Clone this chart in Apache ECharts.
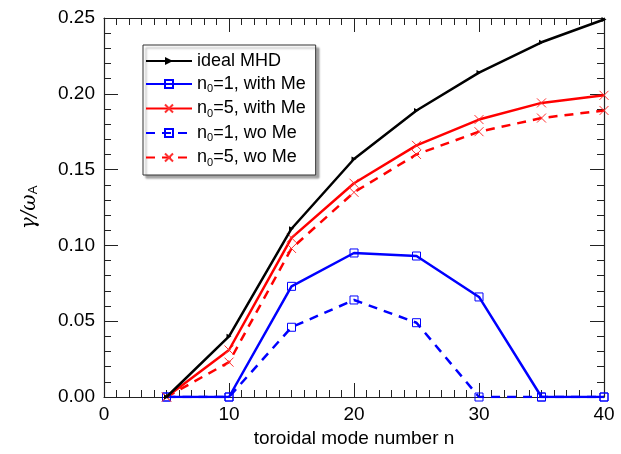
<!DOCTYPE html>
<html>
<head>
<meta charset="utf-8">
<script src="https://cdn.jsdelivr.net/npm/echarts@6/dist/echarts.min.js"></script>
<style>
  html, body { margin: 0; padding: 0; background: #fff; }
  #chart { width: 621px; height: 454px; }
</style>
</head>
<body>
<div id="chart"></div>
<script>
// toroidal mode numbers
var modeN = [5, 10, 15, 20, 25, 30, 35, 40]

// growth rates gamma / omega_A
var idealMHD = [0.000, 0.040, 0.111, 0.157, 0.189, 0.214, 0.234, 0.249]
var n5WithMe = [0.000, 0.031, 0.105, 0.141, 0.166, 0.183, 0.194, 0.199]
var n5WoMe   = [0.000, 0.023, 0.098, 0.135, 0.160, 0.175, 0.184, 0.189]
var n1WithMe = [0.000, 0.000, 0.073, 0.095, 0.093, 0.066, 0.000, 0.000]
var n1WoMe   = [0.000, 0.000, 0.046, 0.064, 0.049, 0.000, 0.000, 0.000]

var xTicks = [0, 10, 20, 30, 40]
var yTicks = [0.00, 0.05, 0.10, 0.15, 0.20, 0.25]

var font = '"Liberation Sans", Arial, sans-serif'
var crossPath = 'path://M0,0L10,10M10,0L0,10'

function pairs (vals) {
  return modeN.map(function (n, i) { return [n, vals[i]] })
}

function axisCommon (pos, showLabels, isX) {
  var ticks = isX ? xTicks : yTicks
  return {
    type: 'value',
    position: pos,
    min: ticks[0],
    max: ticks[ticks.length - 1],
    interval: ticks[1] - ticks[0],
    axisLine: { show: true, onZero: false, lineStyle: { color: '#222', width: 1.2 } },
    axisTick: { show: true, inside: true, length: 14, lineStyle: { color: '#222', width: 1 } },
    minorTick: { show: true, splitNumber: isX ? 10 : 5, length: 7, lineStyle: { color: '#222', width: 1 } },
    splitLine: { show: false },
    axisLabel: {
      show: showLabels,
      color: '#000',
      fontFamily: font,
      fontSize: 19,
      margin: isX ? 8 : 9,
      formatter: function (v) { return isX ? String(v) : v.toFixed(2) }
    }
  }
}

var xBottom = axisCommon('bottom', true, true)
xBottom.name = 'toroidal mode number n'
xBottom.nameLocation = 'middle'
xBottom.nameGap = 32
xBottom.nameTextStyle = { color: '#000', fontFamily: font, fontSize: 19 }

var yLeft = axisCommon('left', true, false)
yLeft.name = '{g|γ/ω}{s|A}'
yLeft.nameLocation = 'middle'
yLeft.nameGap = 64
yLeft.nameRotate = 90
yLeft.nameTextStyle = {
  rich: {
    g: { fontFamily: '"DejaVu Serif", serif', fontStyle: 'italic', fontSize: 20, color: '#000' },
    s: { fontFamily: font, fontSize: 13, color: '#000', verticalAlign: 'bottom', padding: [8, 0, 0, 0] }
  }
}

var chart = echarts.init(document.getElementById('chart'))
chart.setOption({
  animation: false,
  backgroundColor: '#fff',
  grid: { left: 104, right: 17, top: 18, bottom: 57 },
  xAxis: [xBottom, axisCommon('top', false, true)],
  yAxis: [yLeft, axisCommon('right', false, false)],
  legend: {
    orient: 'vertical',
    left: 143,
    top: 45,
    padding: [7, 10, 7, 2],
    itemWidth: 46,
    itemHeight: 10,
    itemGap: 5,
    backgroundColor: '#fff',
    borderColor: '#333',
    borderWidth: 1,
    shadowColor: 'rgba(0,0,0,0.35)',
    shadowOffsetX: 3,
    shadowOffsetY: 3,
    shadowBlur: 2,
    textStyle: {
      color: '#000',
      fontFamily: font,
      fontSize: 18,
      rich: {
        a: { fontFamily: font, fontSize: 18, color: '#000' },
        s: { fontFamily: font, fontSize: 11, color: '#000', padding: [10, 0, 0, 0] }
      }
    },
    formatter: function (name) {
      if (name.indexOf('n0') === 0) return '{a|n}{s|0}{a|' + name.slice(2) + '}'
      return '{a|' + name + '}'
    },
    data: ['ideal MHD', 'n0=1, with Me', 'n0=5, with Me', 'n0=1, wo Me', 'n0=5, wo Me']
  },
  series: [
    {
      name: 'ideal MHD',
      type: 'line',
      data: pairs(idealMHD),
      symbol: 'triangle',
      symbolSize: 5,
      symbolRotate: -90,
      itemStyle: { color: '#000' },
      lineStyle: { color: '#000', width: 2.5 },
      z: 5
    },
    {
      name: 'n0=1, with Me',
      type: 'line',
      data: pairs(n1WithMe),
      symbol: 'rect',
      symbolSize: 8,
      itemStyle: { color: 'rgba(255,255,255,0)', borderColor: '#0000ff', borderWidth: 1 },
      lineStyle: { color: '#0000ff', width: 2.5 }
    },
    {
      name: 'n0=5, with Me',
      type: 'line',
      data: pairs(n5WithMe),
      symbol: crossPath,
      symbolSize: 9,
      itemStyle: { color: 'rgba(255,0,0,0)', borderColor: '#ff3030', borderWidth: 1 },
      lineStyle: { color: '#ff0000', width: 2.5 }
    },
    {
      name: 'n0=1, wo Me',
      type: 'line',
      data: pairs(n1WoMe),
      symbol: 'rect',
      symbolSize: 8,
      itemStyle: { color: 'rgba(255,255,255,0)', borderColor: '#0000ff', borderWidth: 1 },
      lineStyle: { color: '#0000ff', width: 2.5, type: [9, 7] }
    },
    {
      name: 'n0=5, wo Me',
      type: 'line',
      data: pairs(n5WoMe),
      symbol: crossPath,
      symbolSize: 9,
      itemStyle: { color: 'rgba(255,0,0,0)', borderColor: '#ff3030', borderWidth: 1 },
      lineStyle: { color: '#ff0000', width: 2.5, type: [9, 7] }
    }
  ]
})
</script>
</body>
</html>
